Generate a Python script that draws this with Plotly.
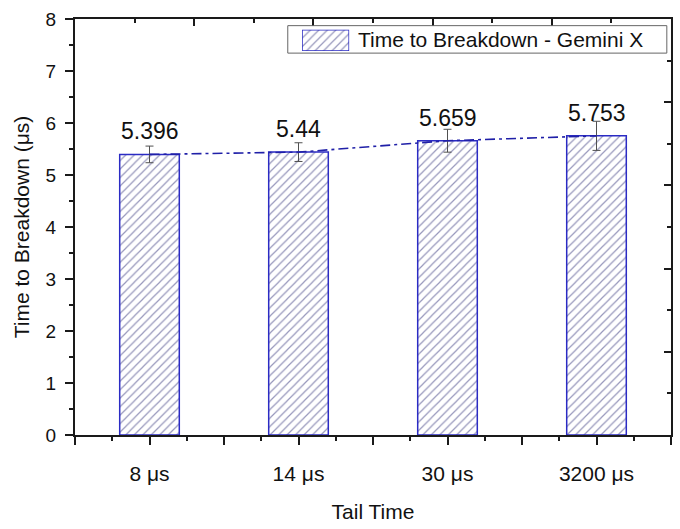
import plotly.graph_objects as go

# Tail time settings and measured time to breakdown (µs)
categories = ["8 μs", "14 μs", "30 μs", "3200 μs"]
breakdown_time = [5.396, 5.44, 5.659, 5.753]
breakdown_err = [0.16, 0.18, 0.22, 0.28]
legend_label = "Time to Breakdown - Gemini X"

FONT = "Liberation Sans, Arial, sans-serif"
BAR_EDGE = "#2b2bc4"
HATCH = "#2f2f78"
LINE_BLUE = "#2020a8"
AXIS = "#1a1a1a"

x_pos = list(range(len(categories)))

bar_style = dict(
    marker=dict(
        color="white",
        line=dict(color=BAR_EDGE, width=1.5),
        pattern=dict(shape="/", fgcolor=HATCH, bgcolor="white",
                     size=6, solidity=0.2, fillmode="overlay"),
    ),
)

fig = go.Figure()

fig.add_trace(go.Bar(
    x=x_pos, y=breakdown_time, width=0.4, name=legend_label,
    error_y=dict(type="data", array=breakdown_err, color="#505050",
                 thickness=1, width=4),
    showlegend=False, **bar_style,
))

# trend line through the bar tops
fig.add_trace(go.Scatter(
    x=x_pos, y=breakdown_time, mode="lines",
    line=dict(color=LINE_BLUE, width=1.6, dash="10px,4px,3px,4px"),
    showlegend=False, hoverinfo="skip",
))

# frame axes (top and right) carry their own tick spacing
fig.add_trace(go.Scatter(x=[0], y=[0], xaxis="x2", yaxis="y2",
                         mode="markers", marker=dict(opacity=0),
                         showlegend=False, hoverinfo="skip"))

# hatched legend swatch on its own small axis pair
fig.add_trace(go.Bar(x=[0], y=[1], width=1, xaxis="x3", yaxis="y3",
                     showlegend=False, hoverinfo="skip", **bar_style))

# value labels above each bar
for xi, v in zip(x_pos, breakdown_time):
    fig.add_annotation(x=xi, y=v, text=f"{v:g}", showarrow=False,
                       yanchor="bottom", yshift=8,
                       font=dict(family=FONT, size=23, color="#111111"))

# legend box and text
fig.add_shape(type="rect", xref="paper", yref="paper",
              x0=0.357, x1=0.993, y0=0.918, y1=0.984,
              line=dict(color="#666666", width=1), fillcolor="rgba(0,0,0,0)")
fig.add_annotation(xref="paper", yref="paper", x=0.472, y=0.951,
                   xanchor="left", yanchor="middle", showarrow=False,
                   text=legend_label,
                   font=dict(family=FONT, size=21, color="#111111"))

tick_vals = []
tick_text = []
for i, c in enumerate(categories):
    tick_vals += [i - 0.5, i]
    tick_text += ["", c]
tick_vals.append(len(categories) - 0.5)
tick_text.append("")

fig.update_layout(
    width=680, height=529,
    margin=dict(l=75, r=9, t=16, b=84),
    paper_bgcolor="white", plot_bgcolor="white",
    font=dict(family=FONT, color="#111111"),
    xaxis=dict(
        range=[-0.5, len(categories) - 0.5],
        tickmode="array", tickvals=tick_vals, ticktext=tick_text,
        ticks="outside", ticklen=8, tickwidth=1.5, tickcolor=AXIS,
        minor=dict(tick0=0.25, dtick=0.5, ticks="outside", ticklen=4,
                   tickwidth=1.5, tickcolor=AXIS),
        showline=True, linecolor=AXIS, linewidth=2,
        showgrid=False, zeroline=False,
        tickfont=dict(size=21), ticklabelstandoff=11,
        title=dict(text="Tail Time", font=dict(size=21), standoff=20),
    ),
    yaxis=dict(
        range=[0, 8], dtick=1,
        ticks="outside", ticklen=8, tickwidth=1.5, tickcolor=AXIS,
        minor=dict(dtick=0.5, ticks="outside", ticklen=4,
                   tickwidth=1.5, tickcolor=AXIS),
        showline=True, linecolor=AXIS, linewidth=2,
        showgrid=False, zeroline=False,
        tickfont=dict(size=19), ticklabelstandoff=5,
        title=dict(text="Time to Breakdown (μs)", font=dict(size=21), standoff=10),
    ),
    xaxis2=dict(
        overlaying="x", side="top", anchor="y2",
        range=[0, 5], dtick=1, showticklabels=False,
        ticks="inside", ticklen=7, tickwidth=1.5, tickcolor=AXIS,
        minor=dict(dtick=0.5, ticks="inside", ticklen=4,
                   tickwidth=1.5, tickcolor=AXIS),
        showline=True, linecolor=AXIS, linewidth=2,
        showgrid=False, zeroline=False,
    ),
    yaxis2=dict(
        overlaying="y", side="right", anchor="x2",
        range=[0, 10], dtick=2, showticklabels=False,
        ticks="inside", ticklen=7, tickwidth=1.5, tickcolor=AXIS,
        minor=dict(dtick=1, ticks="inside", ticklen=4,
                   tickwidth=1.5, tickcolor=AXIS),
        showline=True, linecolor=AXIS, linewidth=2,
        showgrid=False, zeroline=False,
    ),
    xaxis3=dict(domain=[0.381, 0.460], anchor="y3", range=[-0.5, 0.5],
                visible=False, fixedrange=True),
    yaxis3=dict(domain=[0.923, 0.974], anchor="x3", range=[0, 1],
                visible=False, fixedrange=True),
)

fig.write_html("out.html")
